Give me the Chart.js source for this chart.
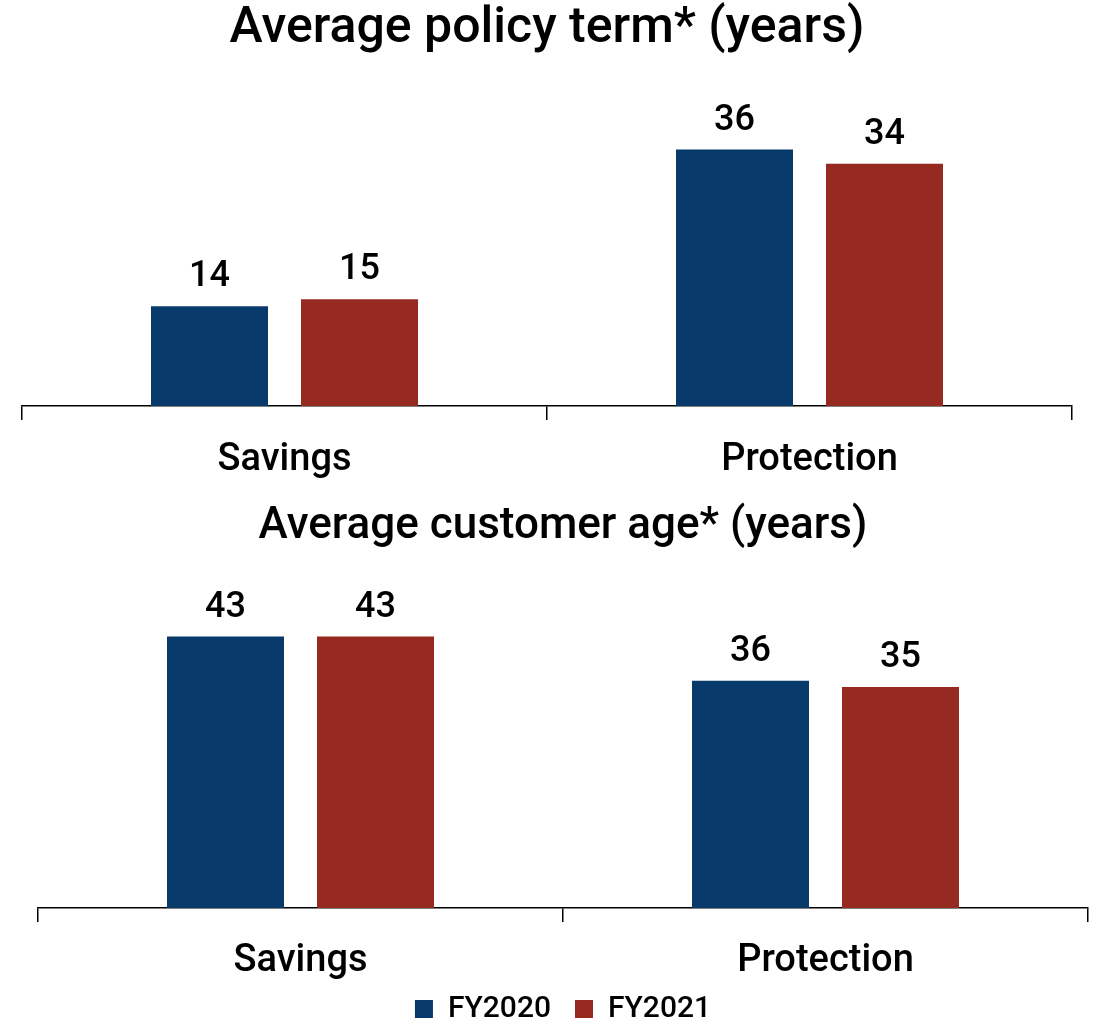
<!DOCTYPE html>
<html>
<head>
<meta charset="utf-8">
<script src="https://cdn.jsdelivr.net/npm/chart.js@4.4.1/dist/chart.umd.min.js"></script>
<style>
  body { margin: 0; background: #fff; overflow: hidden; }
  #wrap { position: relative; width: 1102px; height: 1023px; overflow: hidden; }
  #c1 { position: absolute; left: 0; top: 0; }
  #c2 { position: absolute; left: 0; top: 500px; }
</style>
</head>
<body>
<div id="wrap">
  <canvas id="c1" width="1102" height="500"></canvas>
  <canvas id="c2" width="1102" height="544"></canvas>
</div>
<script>
const categorias = ['Savings', 'Protection'];
const series = ['FY2020', 'FY2021'];
const prazoFY2020 = [14, 36];
const prazoFY2021 = [15, 34];
const idadeFY2020 = [43, 36];
const idadeFY2021 = [43, 35];

const azul = '#073A6B';
const vermelho = '#962920';
const fonte = "Roboto, 'Liberation Sans', Arial, sans-serif";

// rotulos acima das barras
const rotulos = {
  id: 'rotulos',
  afterDatasetsDraw(chart) {
    const ctx = chart.ctx;
    ctx.save();
    ctx.font = '500 36px ' + fonte;
    ctx.fillStyle = '#000';
    ctx.textAlign = 'center';
    ctx.textBaseline = 'alphabetic';
    chart.data.datasets.forEach((ds, i) => {
      chart.getDatasetMeta(i).data.forEach((bar, j) => {
        ctx.fillText(ds.data[j], bar.x, bar.y - 20);
      });
    });
    ctx.restore();
  }
};

// aproxima a legenda dos rotulos do eixo
const subirLegenda = {
  id: 'subirLegenda',
  afterLayout(chart) {
    const lg = chart.legend;
    if (lg && lg.options.display) {
      lg.top -= 10;
      lg.bottom -= 10;
    }
  }
};

function opcoes(titulo, tamTitulo, tituloTopo, pad, maxY, tickPad, alturaEixo, legenda) {
  return {
    responsive: false,
    animation: false,
    layout: { padding: pad },
    plugins: {
      title: {
        display: true,
        text: titulo,
        color: '#000',
        font: { family: fonte, size: tamTitulo, weight: 500, lineHeight: 1 },
        padding: { top: tituloTopo, bottom: 20 }
      },
      legend: legenda ? {
        display: true,
        position: 'bottom',
        labels: {
          color: '#000',
          boxWidth: 18,
          boxHeight: 18,
          padding: 24,
          font: { family: fonte, size: 30, weight: 500 }
        }
      } : { display: false },
      tooltip: { enabled: false }
    },
    scales: {
      x: {
        grid: { display: true, drawOnChartArea: false, drawTicks: true, tickLength: 14, color: '#000', lineWidth: 1.5 },
        border: { display: true, color: '#000', width: 1.5 },
        ticks: { color: '#000', padding: tickPad, font: { family: fonte, size: 38, weight: 500 } },
        afterFit: (escala) => { escala.height = alturaEixo; }
      },
      y: { display: false, min: 0, max: maxY }
    }
  };
}

function dados(a, b) {
  return {
    labels: categorias,
    datasets: [
      { label: series[0], data: a, backgroundColor: azul, categoryPercentage: 0.5714, barPercentage: 0.78 },
      { label: series[1], data: b, backgroundColor: vermelho, categoryPercentage: 0.5714, barPercentage: 0.78 }
    ]
  };
}

new Chart(document.getElementById('c1'), {
  type: 'bar',
  data: dados(prazoFY2020, prazoFY2021),
  options: opcoes('Average policy term* (years)', 50, 4, { left: 22, right: 30, top: 0, bottom: 14 }, 46.6, 18, 80, false),
  plugins: [rotulos]
});

new Chart(document.getElementById('c2'), {
  type: 'bar',
  data: dados(idadeFY2020, idadeFY2021),
  options: opcoes('Average customer age* (years)', 44, 0, { left: 38, right: 14, top: 5, bottom: 0 }, 53.7, 17, 72, true),
  plugins: [rotulos, subirLegenda]
});
</script>
</body>
</html>
